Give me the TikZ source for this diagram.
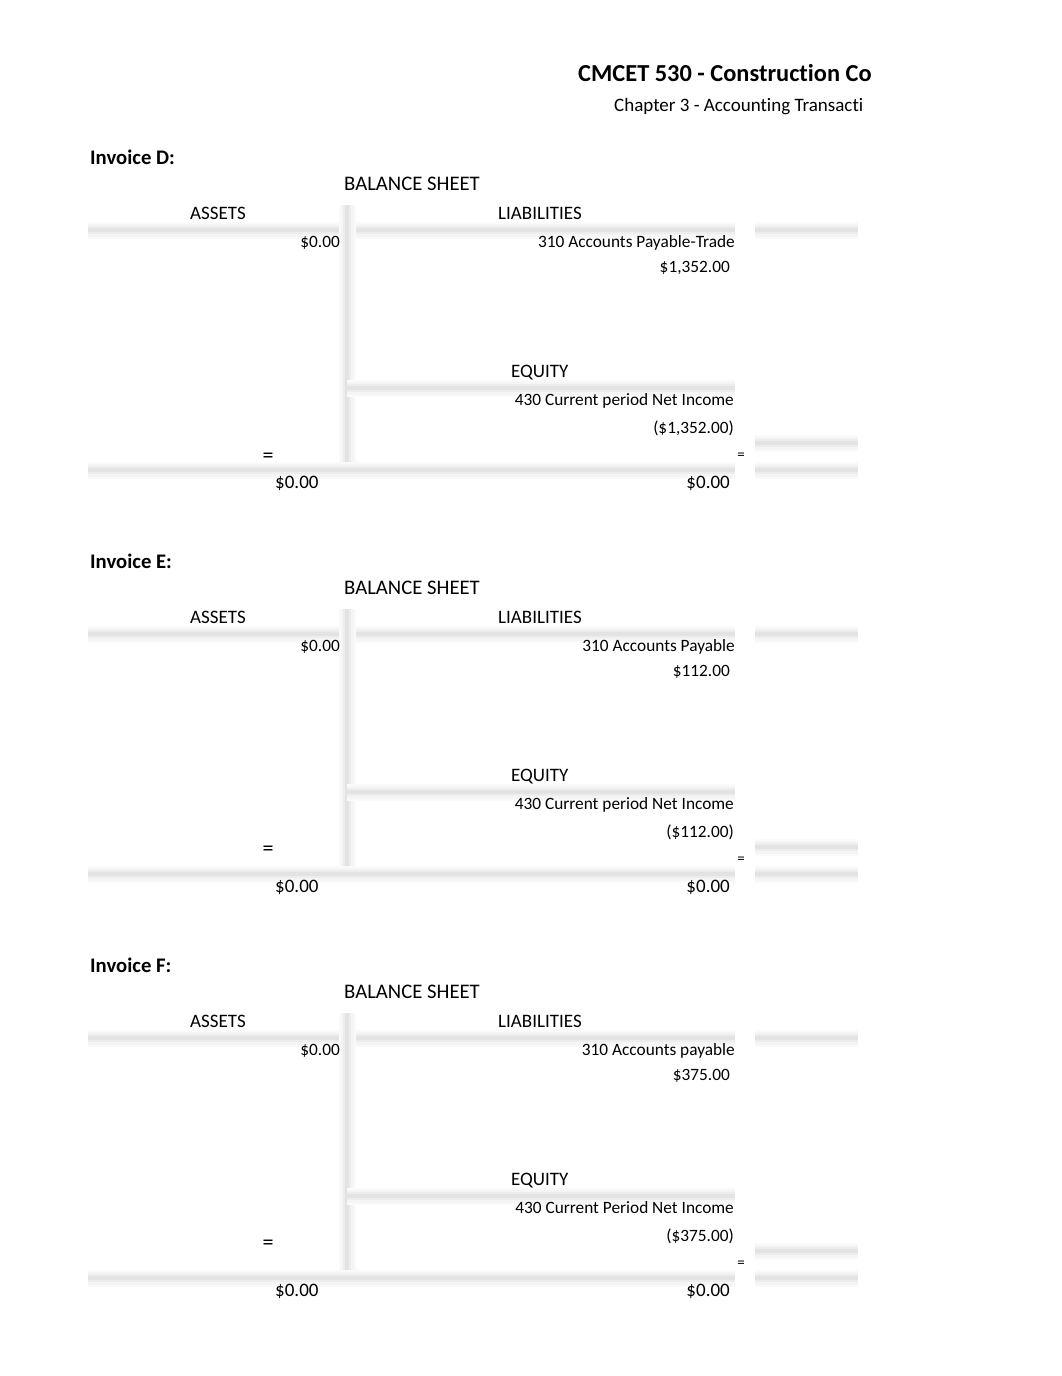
\documentclass[tikz,border=0pt]{standalone}
\usepackage{fontspec}
\setmainfont{Carlito}[Ligatures=NoCommon]
\begin{document}
\begin{tikzpicture}[x=1pt,y=-1pt]
    \tikzstyle{txt}=[inner sep=0pt,font=\fontsize{19}{22}\selectfont]
    \tikzstyle{small}=[inner sep=0pt,font=\fontsize{17.3}{20}\selectfont]
    \tikzstyle{big}=[inner sep=0pt,font=\fontsize{20.7}{24}\selectfont]
    \tikzstyle{head}=[inner sep=0pt,font=\fontsize{20.7}{24}\selectfont\bfseries]
    \tikzstyle{rule}=[draw=black!11,line width=4pt,
        preaction={draw=black!2,line width=17pt},
        preaction={draw=black!4,line width=13pt},
        preaction={draw=black!7,line width=8pt}]
    \useasboundingbox (0,0) rectangle (1062,1376);

    \node[inner sep=0pt,font=\fontsize{24.4}{28}\selectfont\bfseries,anchor=base west] (title) at (578,81) {CMCET 530 - Construction Co};
    \node[txt,anchor=base west] (chapter) at (614,111) {Chapter 3 - Accounting Transacti};

    \foreach \b/\dy/\acct/\amt/\ni/\niamt/\eqy in {
        D/0/{310 Accounts Payable-Trade}/{\$1,352.00}/{430 Current period Net Income}/{(\$1,352.00)}/462,
        E/404/{310 Accounts Payable}/{\$112.00}/{430 Current period Net Income}/{(\$112.00)}/451,
        F/808/{310 Accounts payable}/{\$375.00}/{430 Current Period Net Income}/{(\$375.00)}/441}
    {
    \begin{scope}[shift={(0,\dy)}]
        % T-account rules
        \coordinate (top-\b) at (347,205);
        \coordinate (foot-\b) at (347,470);
        \coordinate (eq-\b) at (347,388);
        \draw[rule] (88,230) -- (735,230);
        \draw[rule] (755,230) -- (858,230);
        \draw[rule] (top-\b) -- (foot-\b);
        \draw[rule] (eq-\b) -- (735,388);
        \draw[rule] (755,443) -- (858,443);
        \draw[rule] (88,470) -- (735,470);
        \draw[rule] (755,470) -- (858,470);

        \node[head,anchor=base west] (inv-\b) at (90,164) {Invoice \b:};
        \node[big,anchor=base west] (bs-\b) at (344,190) {BALANCE SHEET};
        \node[txt,anchor=base west] (assets-\b) at (190,219.5) {ASSETS};
        \node[txt,anchor=base west] (liab-\b) at (498,219.5) {LIABILITIES};
        \node[small,anchor=base east] (astot-\b) at (340,247) {\$0.00};
        \node[small,anchor=base east] (acct-\b) at (735,247) {\acct};
        \node[small,anchor=base east] (amt-\b) at (730,272) {\amt};
        \node[txt,anchor=base west] (equity-\b) at (511,377.5) {EQUITY};
        \node[small,anchor=base east] (ni-\b) at (734,405) {\ni};
        \node[small,anchor=base east] (niamt-\b) at (734,433) {\niamt};
        \node[inner sep=0pt,font=\fontsize{22}{24}\selectfont,anchor=base] (eqL-\b) at (268,\eqy) {=};
        \node[inner sep=0pt,font=\fontsize{15}{17}\selectfont,anchor=base] (eqR-\b) at (741,459) {=};
        \node[txt,anchor=base west] (sumL-\b) at (275,488.5) {\$0.00};
        \node[txt,anchor=base east] (sumR-\b) at (730,488.5) {\$0.00};
    \end{scope}
    }
\end{tikzpicture}
\end{document}
